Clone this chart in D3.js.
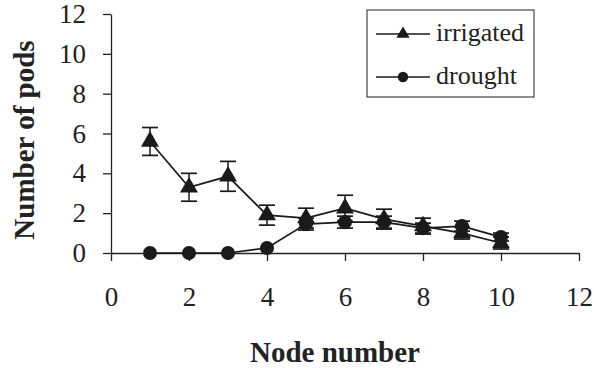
<!DOCTYPE html>
<html>
  <meta charset="utf-8" />
  <head>
    <script src="https://d3js.org/d3.v7.min.js"></script>
    <style>
      body { margin: 0; background: #fff; }
      svg text { font-family: "Liberation Serif", "Times New Roman", serif !important; fill: #222; }
    </style>
  </head>
  <body>
    <svg id="chart" width="594" height="368"></svg>
    <script>
      // data
      const nodes = [1, 2, 3, 4, 5, 6, 7, 8, 9, 10];
      const irrigated = [5.6, 3.3, 3.85, 1.9, 1.75, 2.25, 1.7, 1.35, 1.0, 0.5];
      const irrigatedErr = [0.7, 0.7, 0.75, 0.5, 0.5, 0.65, 0.5, 0.4, 0.3, 0.3];
      const drought = [0, 0, 0, 0.25, 1.45, 1.55, 1.55, 1.25, 1.35, 0.8];
      const droughtErr = [0, 0, 0, 0, 0.3, 0.3, 0.3, 0.25, 0.25, 0.2];
      const xTicks = [0, 2, 4, 6, 8, 10, 12];
      const yTicks = [0, 2, 4, 6, 8, 10, 12];

      const svg = d3.select("#chart");
      const x = d3.scaleLinear().domain([0, 12]).range([111, 579]);
      const y = d3.scaleLinear().domain([0, 12]).range([253, 14]);

      // axes
      const xAxis = svg.append("g")
        .attr("transform", `translate(0, ${y(0)})`)
        .call(d3.axisBottom(x).tickValues(xTicks).tickSize(8).tickSizeOuter(0).tickPadding(26));
      const yAxis = svg.append("g")
        .attr("transform", `translate(${x(0)}, 0)`)
        .call(d3.axisLeft(y).tickValues(yTicks).tickSize(8).tickSizeOuter(0).tickPadding(17));
      [xAxis, yAxis].forEach((a) => {
        a.attr("font-family", null);
        a.select(".domain").attr("stroke", "#222").attr("stroke-width", 1.3);
        a.selectAll(".tick line").attr("stroke", "#222").attr("stroke-width", 1.3);
        a.selectAll(".tick text")
          .attr("font-size", 27)
          .style("font-family", "'Liberation Serif', serif")
          .attr("fill", "#222");
      });

      const line = d3.line().x((d) => x(d[0])).y((d) => y(d[1]));

      function drawSeries(vals, errs, shape) {
        const pts = nodes.map((n, i) => [n, vals[i], errs[i]]);
        const g = svg.append("g");
        g.append("path")
          .datum(pts)
          .attr("d", line)
          .attr("fill", "none")
          .attr("stroke", "#1a1a1a")
          .attr("stroke-width", 1.7);
        const eb = g.selectAll(".eb").data(pts.filter((d) => d[2] > 0)).enter().append("g");
        eb.append("line")
          .attr("x1", (d) => x(d[0])).attr("x2", (d) => x(d[0]))
          .attr("y1", (d) => y(d[1] - d[2])).attr("y2", (d) => y(d[1] + d[2]))
          .attr("stroke", "#1a1a1a").attr("stroke-width", 1.5);
        [-1, 1].forEach((s) => {
          eb.append("line")
            .attr("x1", (d) => x(d[0]) - 8).attr("x2", (d) => x(d[0]) + 8)
            .attr("y1", (d) => y(d[1] + s * d[2])).attr("y2", (d) => y(d[1] + s * d[2]))
            .attr("stroke", "#1a1a1a").attr("stroke-width", 1.7);
        });
        g.selectAll(".m").data(pts).enter().append("path")
          .attr("transform", (d) => `translate(${x(d[0])}, ${y(d[1])})`)
          .attr("d", d3.symbol().type(shape).size(shape === d3.symbolTriangle ? 140 : 155))
          .attr("fill", "#1a1a1a");
      }

      drawSeries(drought, droughtErr, d3.symbolCircle);
      drawSeries(irrigated, irrigatedErr, d3.symbolTriangle);

      // legend
      const lg = svg.append("g");
      lg.append("rect")
        .attr("x", 367).attr("y", 10).attr("width", 167).attr("height", 87)
        .attr("fill", "#fff").attr("stroke", "#444").attr("stroke-width", 1.2);
      const legendItems = [["irrigated", d3.symbolTriangle, 34], ["drought", d3.symbolCircle, 77]];
      legendItems.forEach(([name, shape, ly]) => {
        lg.append("line").attr("x1", 376).attr("x2", 430).attr("y1", ly).attr("y2", ly)
          .attr("stroke", "#1a1a1a").attr("stroke-width", 1.6);
        lg.append("path")
          .attr("transform", `translate(403, ${ly})`)
          .attr("d", d3.symbol().type(shape).size(shape === d3.symbolTriangle ? 75 : 85))
          .attr("fill", "#1a1a1a");
        lg.append("text").attr("x", 436).attr("y", ly + 7)
          .attr("font-size", 26).text(name);
      });

      // axis titles
      svg.append("text")
        .attr("x", 335).attr("y", 362)
        .attr("text-anchor", "middle")
        .attr("font-size", 29).attr("font-weight", "bold")
        .text("Node number");
      svg.append("text")
        .attr("transform", `translate(34, 140) rotate(-90)`)
        .attr("text-anchor", "middle")
        .attr("font-size", 29).attr("font-weight", "bold")
        .text("Number of pods");
    </script>
  </body>
</html>
